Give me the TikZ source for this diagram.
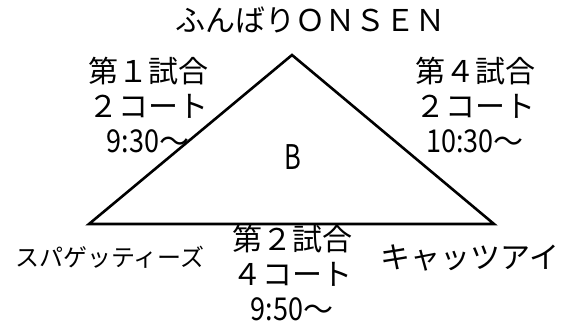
\documentclass[tikz,border=0pt]{standalone}
\usepackage{fontspec}
\setmainfont{Noto Sans CJK JP}
\usetikzlibrary{positioning}

\tikzset{
  court/.style={align=center, inner sep=0pt, font=\fontsize{30}{35}\selectfont},
  team/.style={inner sep=0pt, font=\fontsize{30}{35}\selectfont},
}

\begin{document}
\begin{tikzpicture}[x=1pt, y=-1pt, line join=miter]
  \useasboundingbox (0,0) rectangle (576,327);

  % Triangle corners
  \coordinate (apex) at (292,55);
  \coordinate (left) at (89,224);
  \coordinate (right) at (494,224);
  \draw[line width=2.6pt] (apex) -- (right) -- (left) -- cycle;

  % Teams at the corners
  \node[team] (onsen) at (310,20) {ふんばりＯＮＳＥＮ};
  \node[team, font=\fontsize{24}{28}\selectfont] (spag) at (110,257) {スパゲッティーズ};
  \node[team] (cats) at (470,258) {キャッツアイ};

  % Block name
  \node[team, font=\fontsize{34}{38}\selectfont] (block) at (293,157) {\scalebox{0.75}[1]{B}};

  % Matches on the sides
  \node[court] (match1) at (148,105) {第１試合\\２コート\\\scalebox{0.9}[1.05]{9:30}～};
  \node[court] (match4) at (475,105) {第４試合\\２コート\\\scalebox{0.9}[1.05]{10:30}～};
  \node[court] (match2) at (292,273) {第２試合\\４コート\\\scalebox{0.9}[1.05]{9:50}～};
\end{tikzpicture}
\end{document}
